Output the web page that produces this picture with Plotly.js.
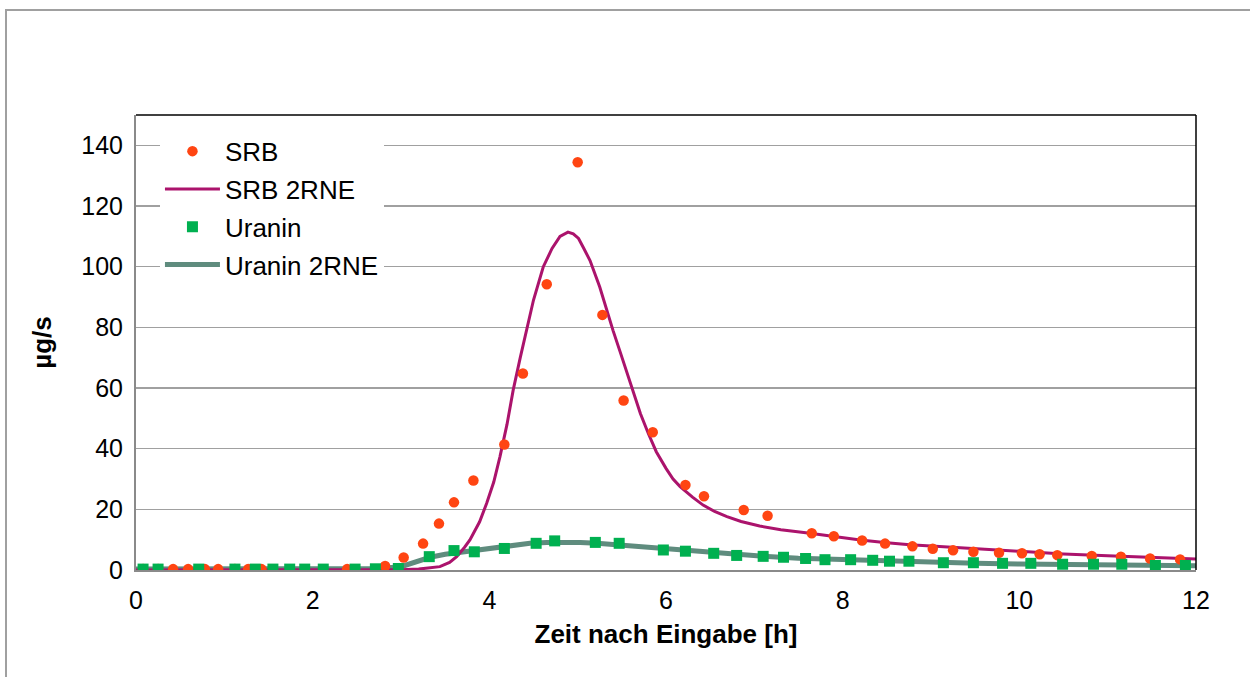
<!DOCTYPE html>
<html>
<head>
<meta charset="utf-8">
<script src="https://cdn.plot.ly/plotly-3.0.1.min.js"></script>
<style>
  html, body { margin: 0; padding: 0; background: #fff; }
  #chart { position: absolute; left: 0; top: 0; width: 1250px; height: 677px; }
  #frame { position: absolute; left: 5px; top: 9px; width: 1260px; height: 700px;
           border-left: 2px solid #a0a0a0; border-top: 2px solid #a0a0a0; pointer-events: none; }
</style>
</head>
<body>
<div id="chart"></div>
<div id="frame"></div>
<script>
// SRB measured points (time [h], µg/s)
const srbTime = [0.08, 0.25, 0.42, 0.59, 0.78, 0.93, 1.12, 1.27, 1.42, 2.39, 2.82, 3.03, 3.25, 3.43, 3.60, 3.82,
  4.17, 4.38, 4.65, 5.00, 5.28, 5.52, 5.85, 6.22, 6.43, 6.88, 7.15, 7.65, 7.90, 8.22, 8.48, 8.79, 9.02, 9.25,
  9.48, 9.77, 10.03, 10.23, 10.43, 10.82, 11.15, 11.48, 11.82];
const srbValue = [0.3, 0.3, 0.3, 0.3, 0.3, 0.3, 0.3, 0.3, 0.3, 0.3, 1.3, 4.1, 8.7, 15.3, 22.3, 29.5,
  41.4, 64.8, 94.2, 134.4, 84.1, 55.9, 45.4, 28.0, 24.3, 19.8, 17.9, 12.1, 11.1, 9.7, 8.7, 7.8, 7.0, 6.5,
  6.0, 5.7, 5.5, 5.2, 4.9, 4.6, 4.4, 3.8, 3.5];

// SRB 2RNE model curve
const srbFitTime = [0, 2.5, 3.0, 3.2, 3.44, 3.55, 3.63, 3.72, 3.78, 3.89, 3.97, 4.05, 4.12, 4.20, 4.27, 4.35,
  4.42, 4.50, 4.61, 4.71, 4.80, 4.89, 4.95, 5.01, 5.07, 5.14, 5.25, 5.32, 5.40, 5.48, 5.56, 5.63, 5.71, 5.80,
  5.89, 6.00, 6.08, 6.16, 6.30, 6.42, 6.55, 6.69, 6.85, 7.06, 7.30, 7.63, 7.90, 8.20, 8.50, 8.76, 9.05, 9.33,
  9.70, 10.0, 10.5, 11.0, 11.5, 12.0];
const srbFitValue = [0, 0, 0.1, 0.3, 1.1, 2.5, 4.4, 7.5, 9.9, 15.9, 22.0, 29.0, 37.3, 48.0, 59.3, 70.0,
  79.0, 89.0, 99.9, 106.0, 110.0, 111.4, 110.8, 109.3, 106.0, 102.0, 93.3, 86.5, 79.0, 72.0, 64.8, 58.0, 51.6, 45.0,
  39.0, 33.5, 30.0, 27.5, 24.0, 21.4, 19.3, 17.6, 16.0, 14.5, 13.3, 12.1, 11.0, 9.9, 9.0, 8.3, 7.8, 7.3,
  6.6, 6.0, 5.3, 4.7, 4.1, 3.6];

// Uranin measured points
const uraTime = [0.08, 0.25, 0.71, 1.12, 1.35, 1.55, 1.74, 1.91, 2.12, 2.48, 2.71, 2.97, 3.32, 3.60, 3.83,
  4.17, 4.53, 4.74, 5.20, 5.47, 5.97, 6.22, 6.54, 6.80, 7.10, 7.33, 7.58, 7.80, 8.09, 8.34, 8.53, 8.75, 9.14,
  9.48, 9.81, 10.13, 10.49, 10.84, 11.16, 11.54, 11.88];
const uraValue = [0.3, 0.3, 0.3, 0.3, 0.3, 0.3, 0.3, 0.3, 0.3, 0.3, 0.4, 0.5, 4.4, 6.4, 6.0,
  7.1, 8.8, 9.6, 9.1, 8.8, 6.6, 6.2, 5.5, 4.8, 4.5, 4.2, 3.8, 3.4, 3.4, 3.2, 2.9, 2.9, 2.4,
  2.4, 2.2, 2.2, 1.9, 1.9, 1.9, 1.5, 1.5];

// Uranin 2RNE model curve
const uraFitTime = [0, 2.5, 2.75, 3.0, 3.15, 3.33, 3.5, 3.71, 3.95, 4.2, 4.46, 4.65, 4.84, 5.03, 5.22, 5.4,
  5.59, 5.9, 6.16, 6.5, 6.8, 7.1, 7.5, 8.0, 8.5, 9.0, 9.5, 10.0, 10.5, 11.0, 11.5, 12.0];
const uraFitValue = [0.3, 0.3, 0.5, 1.1, 2.5, 4.2, 5.2, 6.0, 7.0, 7.9, 8.8, 9.1, 9.2, 9.1, 8.8, 8.4,
  7.9, 7.1, 6.4, 5.6, 5.0, 4.5, 3.9, 3.4, 2.9, 2.5, 2.2, 2.0, 1.8, 1.6, 1.5, 1.4];

const seriesNames = ['SRB', 'SRB 2RNE', 'Uranin', 'Uranin 2RNE'];
const xTitle = 'Zeit nach Eingabe [h]';
const yTitle = 'µg/s';

const FONT = 'Liberation Sans, Arial, sans-serif';

const traces = [
  { x: uraFitTime, y: uraFitValue, name: seriesNames[3], mode: 'lines', legendrank: 4, legendgroup: 'd',
    line: { color: '#5f8c7e', width: 5 } },
  { x: srbFitTime, y: srbFitValue, name: seriesNames[1], mode: 'lines', legendrank: 2, legendgroup: 'b',
    line: { color: '#ab136c', width: 3 } },
  { x: srbTime, y: srbValue, name: seriesNames[0], mode: 'markers', legendrank: 1, legendgroup: 'a',
    marker: { color: '#ff4512', size: 10.5, symbol: 'circle' } },
  { x: uraTime, y: uraValue, name: seriesNames[2], mode: 'markers', legendrank: 3, legendgroup: 'c',
    marker: { color: '#00b050', size: 11, symbol: 'square' } }
];

const layout = {
  width: 1250, height: 677,
  margin: { l: 136, r: 54, t: 115, b: 107 },
  paper_bgcolor: '#ffffff', plot_bgcolor: '#ffffff',
  font: { family: FONT, size: 25, color: '#000' },
  showlegend: true,
  legend: {
    x: 0.0226, y: 0.972, xanchor: 'left', yanchor: 'top',
    bgcolor: '#ffffff', borderwidth: 0,
    font: { family: FONT, size: 26, color: '#000' },
    traceorder: 'grouped', tracegroupgap: 1, itemwidth: 55
  },
  xaxis: {
    range: [0, 12], dtick: 2, tick0: 0,
    showgrid: false, zeroline: false,
    showline: true, linecolor: '#8a8a8a', linewidth: 2,
    ticks: '', ticklabelstandoff: 7,
    tickfont: { family: FONT, size: 25 },
    title: { text: '<b>' + xTitle + '</b>', font: { family: FONT, size: 26 }, standoff: 12 }
  },
  yaxis: {
    range: [0, 150], dtick: 20, tick0: 0,
    showgrid: true, gridcolor: '#a0a0a0', gridwidth: 1.3,
    zeroline: false,
    showline: true, linecolor: '#8a8a8a', linewidth: 2,
    ticks: '', ticklabelstandoff: 6,
    tickfont: { family: FONT, size: 25 },
    title: { text: '<b>' + yTitle + '</b>', font: { family: FONT, size: 26 }, standoff: 22 }
  },
  shapes: [
    { type: 'line', xref: 'paper', yref: 'paper', x0: 0, x1: 1, y0: 1, y1: 1, line: { color: '#000', width: 1.5 } },
    { type: 'line', xref: 'paper', yref: 'paper', x0: 1, x1: 1, y0: 0, y1: 1, line: { color: '#000', width: 1.5 } }
  ]
};

Plotly.newPlot('chart', traces, layout, { displayModeBar: false, staticPlot: true });
</script>
</body>
</html>
